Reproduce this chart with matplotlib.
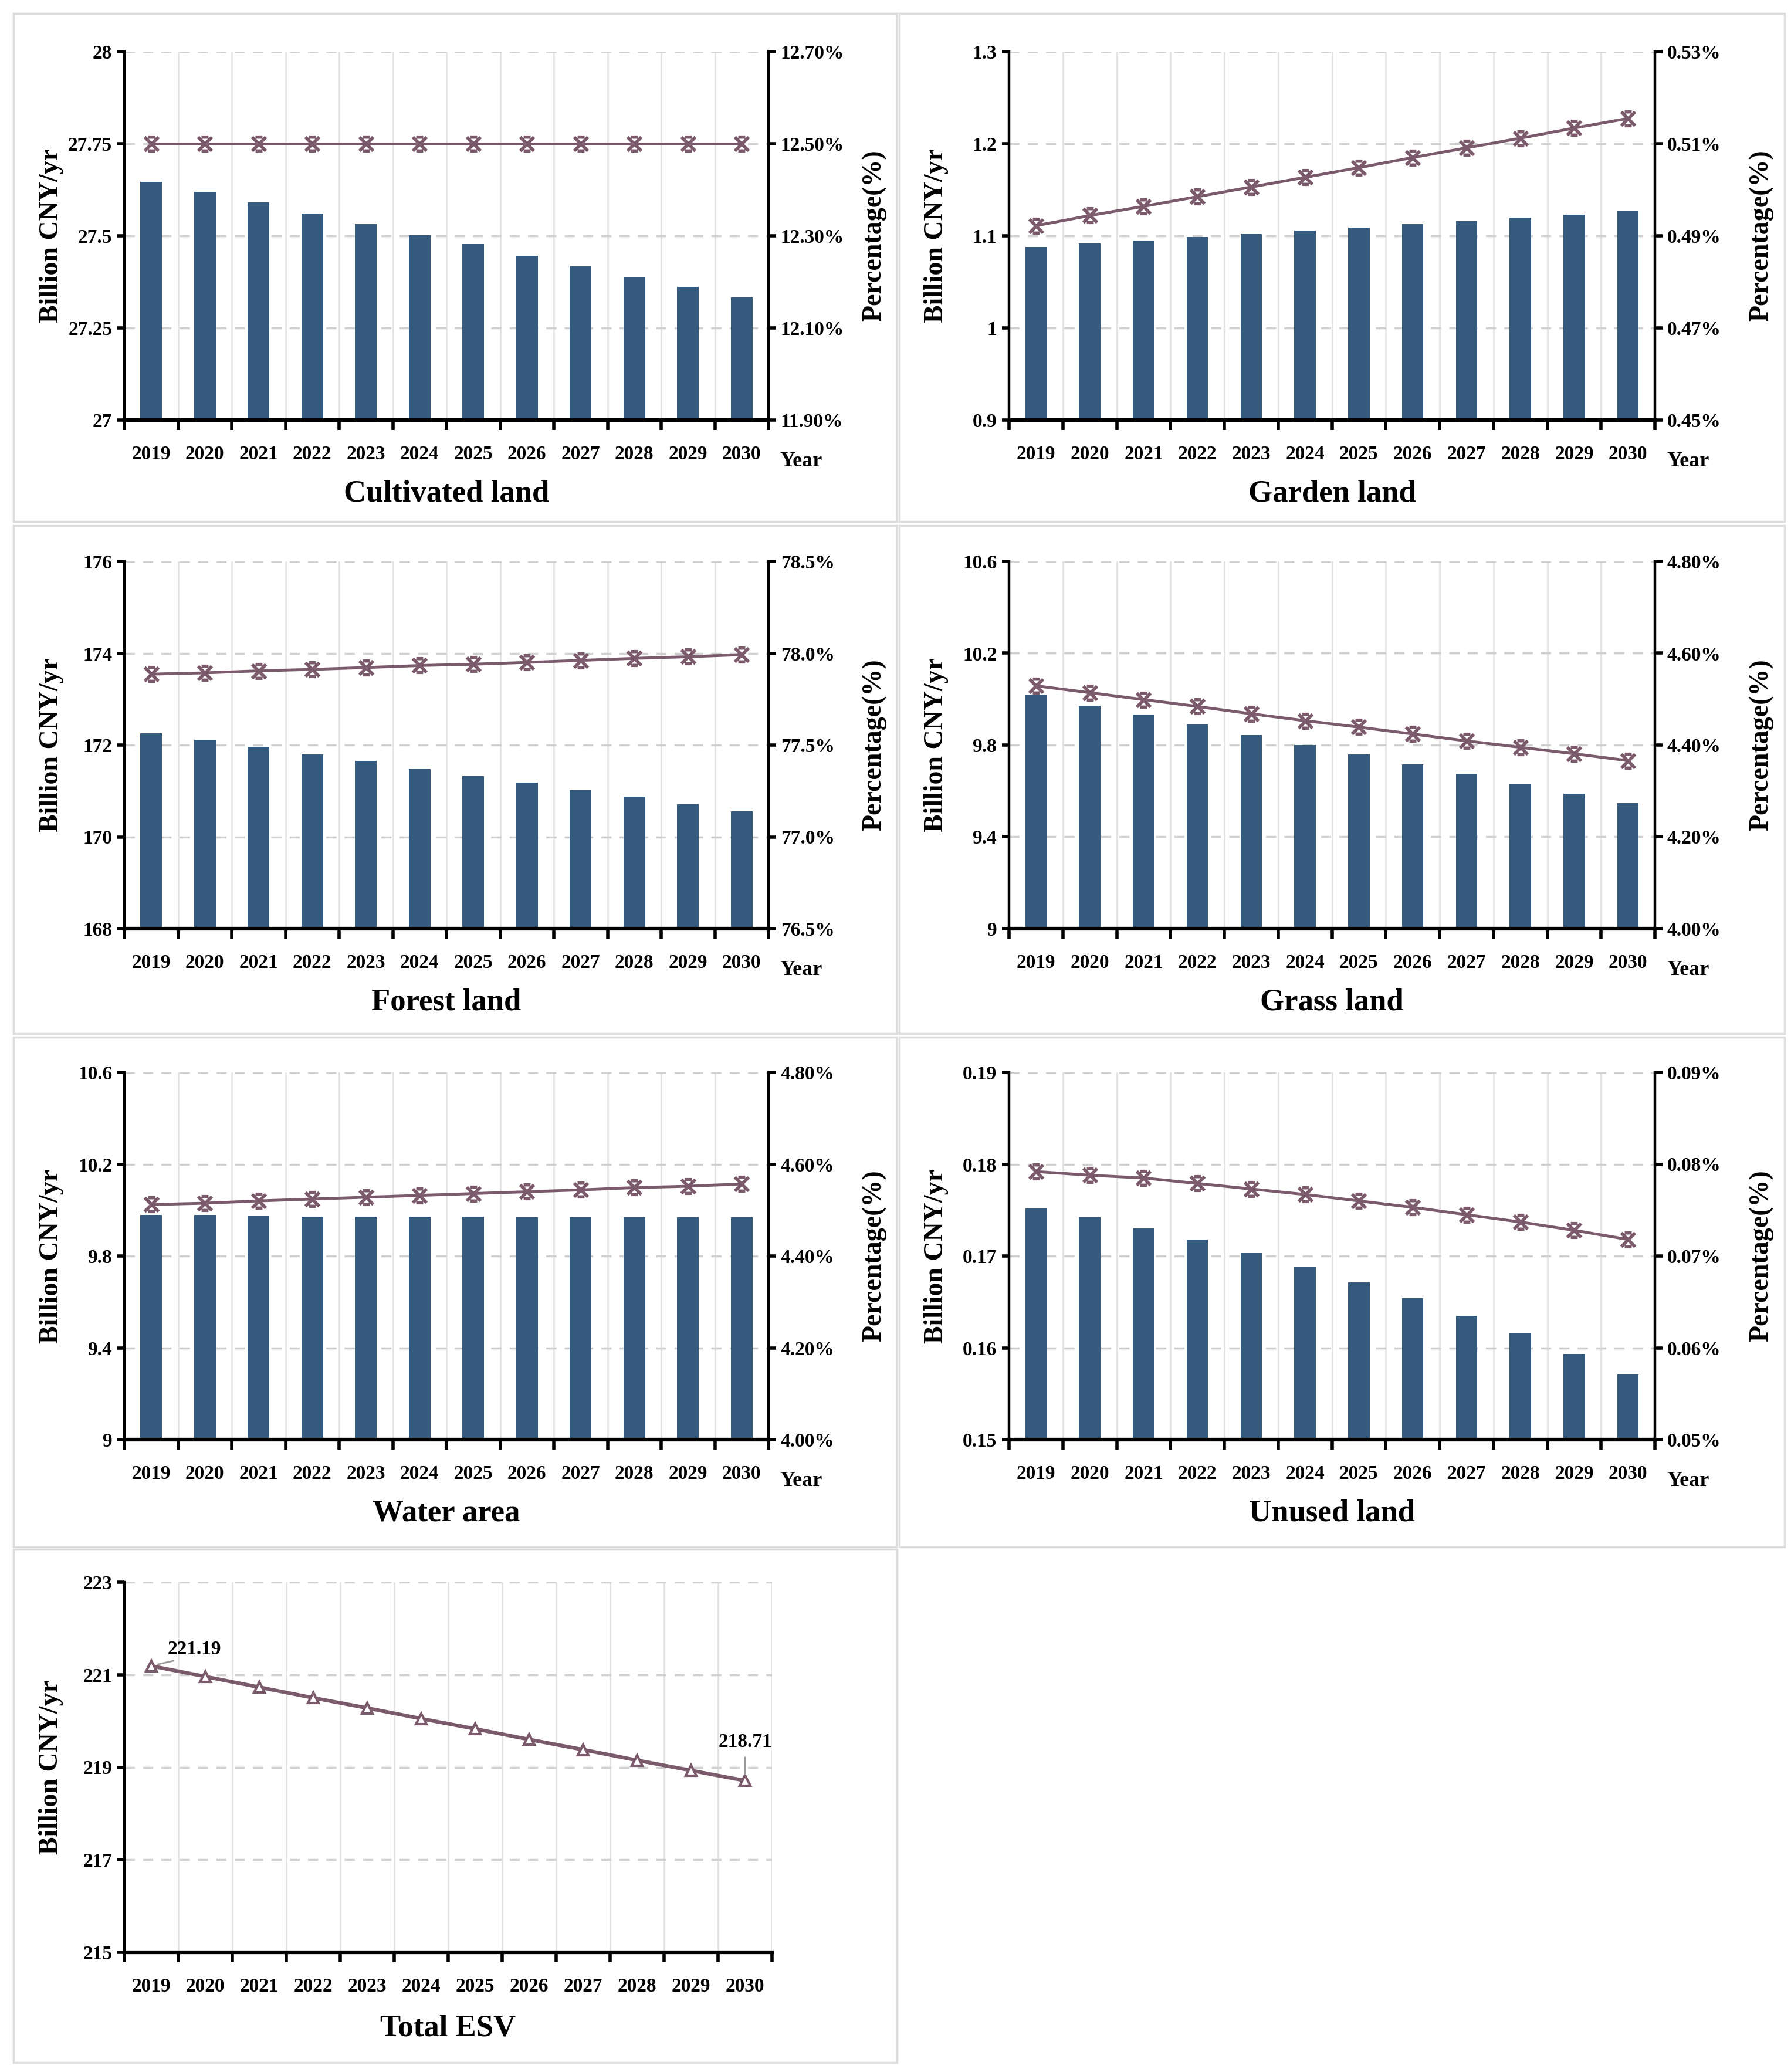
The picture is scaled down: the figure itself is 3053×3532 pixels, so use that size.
import matplotlib
matplotlib.use("Agg")
import matplotlib.pyplot as plt
from matplotlib.path import Path
from matplotlib.patches import Rectangle
import numpy as np

plt.rcParams['font.family'] = ['Liberation Serif', 'DejaVu Serif']
plt.rcParams['font.weight'] = 'bold'
plt.rcParams['axes.labelweight'] = 'bold'

# data
years = ['2019', '2020', '2021', '2022', '2023', '2024',
         '2025', '2026', '2027', '2028', '2029', '2030']

cult_val = [27.646, 27.620, 27.590, 27.561, 27.532, 27.502, 27.477, 27.446, 27.417, 27.388, 27.362, 27.333]
cult_pct = [12.50, 12.50, 12.50, 12.50, 12.50, 12.50, 12.50, 12.50, 12.50, 12.50, 12.50, 12.50]
garden_val = [1.088, 1.092, 1.095, 1.099, 1.102, 1.106, 1.109, 1.113, 1.116, 1.120, 1.123, 1.127]
garden_pct = [0.4922, 0.4944, 0.4964, 0.4985, 0.5006, 0.5027, 0.5048, 0.5070, 0.5091, 0.5112, 0.5134, 0.5155]
forest_val = [172.26, 172.12, 171.96, 171.80, 171.65, 171.48, 171.32, 171.18, 171.02, 170.87, 170.71, 170.55]
forest_pct = [77.886, 77.893, 77.904, 77.912, 77.922, 77.933, 77.940, 77.950, 77.961, 77.972, 77.981, 77.992]
grass_val = [10.020, 9.972, 9.932, 9.889, 9.843, 9.800, 9.758, 9.715, 9.674, 9.631, 9.587, 9.546]
grass_pct = [4.529, 4.514, 4.499, 4.484, 4.468, 4.453, 4.439, 4.424, 4.409, 4.395, 4.381, 4.366]
water_val = [9.978, 9.978, 9.977, 9.972, 9.972, 9.972, 9.971, 9.968, 9.968, 9.968, 9.968, 9.968]
water_pct = [4.512, 4.515, 4.520, 4.524, 4.528, 4.532, 4.536, 4.540, 4.544, 4.549, 4.552, 4.557]
unused_val = [0.1752, 0.1742, 0.1730, 0.1718, 0.1703, 0.1688, 0.1671, 0.1654, 0.1635, 0.1616, 0.1593, 0.1571]
unused_pct = [0.0792, 0.0788, 0.0785, 0.0779, 0.0773, 0.0767, 0.0760, 0.0753, 0.0745, 0.0737, 0.0728, 0.0718]
total_esv = [221.19, 220.96, 220.73, 220.50, 220.28, 220.05, 219.83, 219.60, 219.38, 219.15, 218.93, 218.71]

panels = [
    ('Cultivated land', cult_val, cult_pct, [27, 27.25, 27.5, 27.75, 28], [11.9, 12.1, 12.3, 12.5, 12.7], '{:.2f}%'),
    ('Garden land', garden_val, garden_pct, [0.9, 1.0, 1.1, 1.2, 1.3], [0.45, 0.47, 0.49, 0.51, 0.53], '{:.2f}%'),
    ('Forest land', forest_val, forest_pct, [168, 170, 172, 174, 176], [76.5, 77.0, 77.5, 78.0, 78.5], '{:.1f}%'),
    ('Grass land', grass_val, grass_pct, [9, 9.4, 9.8, 10.2, 10.6], [4.0, 4.2, 4.4, 4.6, 4.8], '{:.2f}%'),
    ('Water area', water_val, water_pct, [9, 9.4, 9.8, 10.2, 10.6], [4.0, 4.2, 4.4, 4.6, 4.8], '{:.2f}%'),
    ('Unused land', unused_val, unused_pct, [0.15, 0.16, 0.17, 0.18, 0.19], [0.05, 0.06, 0.07, 0.08, 0.09], '{:.2f}%'),
]
esv_ticks = [215, 217, 219, 221, 223]

bar_color = '#355a7d'
line_color = '#7a5a6b'

W, H = 3053, 3532
fig = plt.figure(figsize=(W / 100, H / 100), dpi=100)

def px_axes(x0, x1, y0, y1):
    return fig.add_axes([x0 / W, 1 - y1 / H, (x1 - x0) / W, (y1 - y0) / H])

# marker: x with caps
mk = Path([(-1, -1), (1, 1), (-1, 1), (1, -1), (-0.5, 1), (0.5, 1), (-0.5, -1), (0.5, -1)],
          [Path.MOVETO, Path.LINETO, Path.MOVETO, Path.LINETO,
           Path.MOVETO, Path.LINETO, Path.MOVETO, Path.LINETO])

col_x = [(212, 1310), (1720, 2821)]
row_y = [(88, 716), (957, 1583), (1828, 2454), (2697, 3328)]
box_x = [(23, 1529), (1533, 3042)]
box_y = [(23, 889), (896, 1762), (1768, 2637), (2641, 3516)]

x = np.arange(len(years))

def style_base(ax, ticks):
    ax.set_xlim(-0.5, len(years) - 0.5)
    ax.set_ylim(ticks[0], ticks[-1])
    ax.set_xticks(x)
    ax.set_xticklabels(years, fontsize=24, fontweight='bold')
    ax.set_xticks(np.arange(len(years) + 1) - 0.5, minor=True)
    ax.tick_params(axis='x', which='major', length=0, pad=31)
    ax.tick_params(axis='x', which='minor', length=12, width=4, direction='out')
    ax.set_yticks(ticks)
    ax.set_yticklabels(['{:g}'.format(t) for t in ticks], fontsize=24, fontweight='bold')
    ax.tick_params(axis='y', length=9, width=4, pad=6)
    ax.grid(axis='x', which='minor', color='#e3e3e3', lw=2, ls='-')
    ax.grid(axis='y', which='major', color='#cfcfcf', lw=2.5, ls=(0, (5, 4)))
    ax.set_axisbelow(True)
    ax.spines['top'].set_visible(False)
    ax.spines['right'].set_visible(False)
    ax.spines['left'].set_linewidth(3.2)
    ax.spines['bottom'].set_linewidth(4.5)
    ax.set_ylabel('Billion CNY/yr', fontsize=33, fontweight='bold')
    ax.yaxis.set_label_coords(-0.094, 0.5)

for i, (name, vals, pcts, lt, rt, fmt) in enumerate(panels):
    r, c = divmod(i, 2)
    ax = px_axes(col_x[c][0], col_x[c][1], row_y[r][0], row_y[r][1])
    style_base(ax, lt)
    ax.bar(x, vals, width=0.4, color=bar_color, zorder=2)

    ax2 = ax.twinx()
    ax2.set_ylim(rt[0], rt[-1])
    ax2.set_yticks(rt)
    ax2.set_yticklabels([fmt.format(t) for t in rt], fontsize=24, fontweight='bold')
    ax2.tick_params(axis='y', length=9, width=4, pad=6)
    for s in ['top', 'left', 'bottom']:
        ax2.spines[s].set_visible(False)
    ax2.spines['right'].set_linewidth(3.2)
    ax2.plot(x, pcts, color=line_color, lw=3.5, marker=mk, ms=17, mew=4,
             mec=line_color, zorder=3)
    ax2.set_ylabel('Percentage(%)', fontsize=33, fontweight='bold')
    ax2.yaxis.set_label_coords(1.145, 0.5)

    ax.text(1.051, -0.113, 'Year', transform=ax.transAxes, fontsize=26,
            fontweight='bold', ha='center', va='center')
    ax.text(0.5, -0.2, name, transform=ax.transAxes, fontsize=38,
            fontweight='bold', ha='center', va='center')

# Total ESV
ax = px_axes(212, 1316, row_y[3][0], row_y[3][1])
style_base(ax, esv_ticks)
ax.plot(x, total_esv, color=line_color, lw=4.5, marker='^', ms=13, mew=3,
        mfc='white', mec=line_color, zorder=3)
ax.annotate('{:.2f}'.format(total_esv[0]), xy=(x[0], total_esv[0]), xytext=(0.8, 221.55),
            fontsize=24, fontweight='bold', ha='center', va='center',
            arrowprops=dict(arrowstyle='-', color='#999999', lw=2, relpos=(0.3, 0), shrinkA=4, shrinkB=8))
ax.annotate('{:.2f}'.format(total_esv[-1]), xy=(x[-1], total_esv[-1]), xytext=(11, 219.55),
            fontsize=24, fontweight='bold', ha='center', va='center',
            arrowprops=dict(arrowstyle='-', color='#999999', lw=2, relpos=(0.5, 0), shrinkA=6, shrinkB=8))
ax.text(0.5, -0.205, 'Total ESV', transform=ax.transAxes, fontsize=38,
        fontweight='bold', ha='center', va='center')

# light panel frames
for r in range(4):
    for c in range(2):
        if r == 3 and c == 1:
            continue
        x0, x1 = box_x[c]
        y0, y1 = box_y[r]
        fig.patches.append(Rectangle((x0 / W, 1 - y1 / H), (x1 - x0) / W, (y1 - y0) / H,
                                     transform=fig.transFigure, fill=False,
                                     edgecolor='#dcdcdc', lw=2.5))

fig.savefig('out.png', dpi=100, facecolor='white')
